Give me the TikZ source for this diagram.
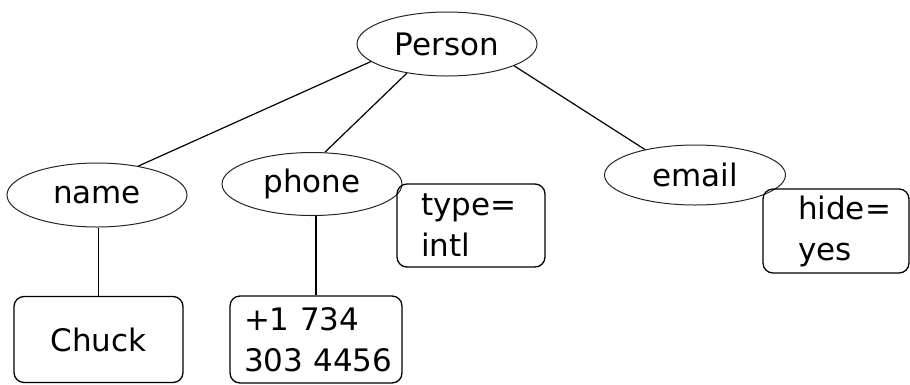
\documentclass[tikz,border=0pt]{standalone}
\usepackage{fontspec}
\setmainfont{DejaVu Sans}
\usetikzlibrary{shapes.geometric}

\tikzset{
  elem/.style={ellipse, draw=black!85, line width=1pt, inner sep=0pt,
    minimum width=180pt, minimum height=64pt},
  valbox/.style={rectangle, rounded corners=10pt, draw=black, line width=1.3pt,
    inner ysep=0pt, minimum height=86pt},
  tagbox/.style={valbox, align=left},
  link/.style={draw=black, line width=1.2pt},
}

\begin{document}
\begin{tikzpicture}[x=1pt, y=-1pt,
  font=\fontsize{31}{41}\selectfont]
  \useasboundingbox (0,0) rectangle (910,384);

  % element ellipses
  \node[elem] (person) at (447,44) {Person};
  \node[elem] (name)   at (97,195) {name};
  \node[elem, minimum height=63pt] (phone) at (312,184) {phone};
  \node[elem, minimum width=181pt, minimum height=60pt] (email) at (695,175) {email};

  % text content boxes
  \node[valbox, minimum width=169pt] (chuck) at (98.5,339.5) {Chuck};
  \node[tagbox, inner xsep=14pt, text width=144pt, minimum height=87pt] (number) at (316,339.5)
    {\mbox{+1 734}\\\mbox{303 4456}};

  % attribute boxes
  \node[tagbox, inner xsep=24pt, text width=100pt, minimum height=83pt] (type) at (471,225.5)
    {\mbox{type=}\\\mbox{intl}};
  \node[tagbox, inner xsep=35pt, text width=76pt, minimum height=84pt] (hide) at (836,231)
    {\mbox{hide=}\\\mbox{yes}};

  % tree edges
  \draw[link] (person.193) -- (name.35);
  \draw[link] (person.216) -- (phone.68);
  \draw[link] (person.342) -- (email.153);
  \draw[link] (chuck.north) -- (chuck.north |- name.south);
  \draw[link] (number.north) -- (number.north |- phone.south);
\end{tikzpicture}
\end{document}
